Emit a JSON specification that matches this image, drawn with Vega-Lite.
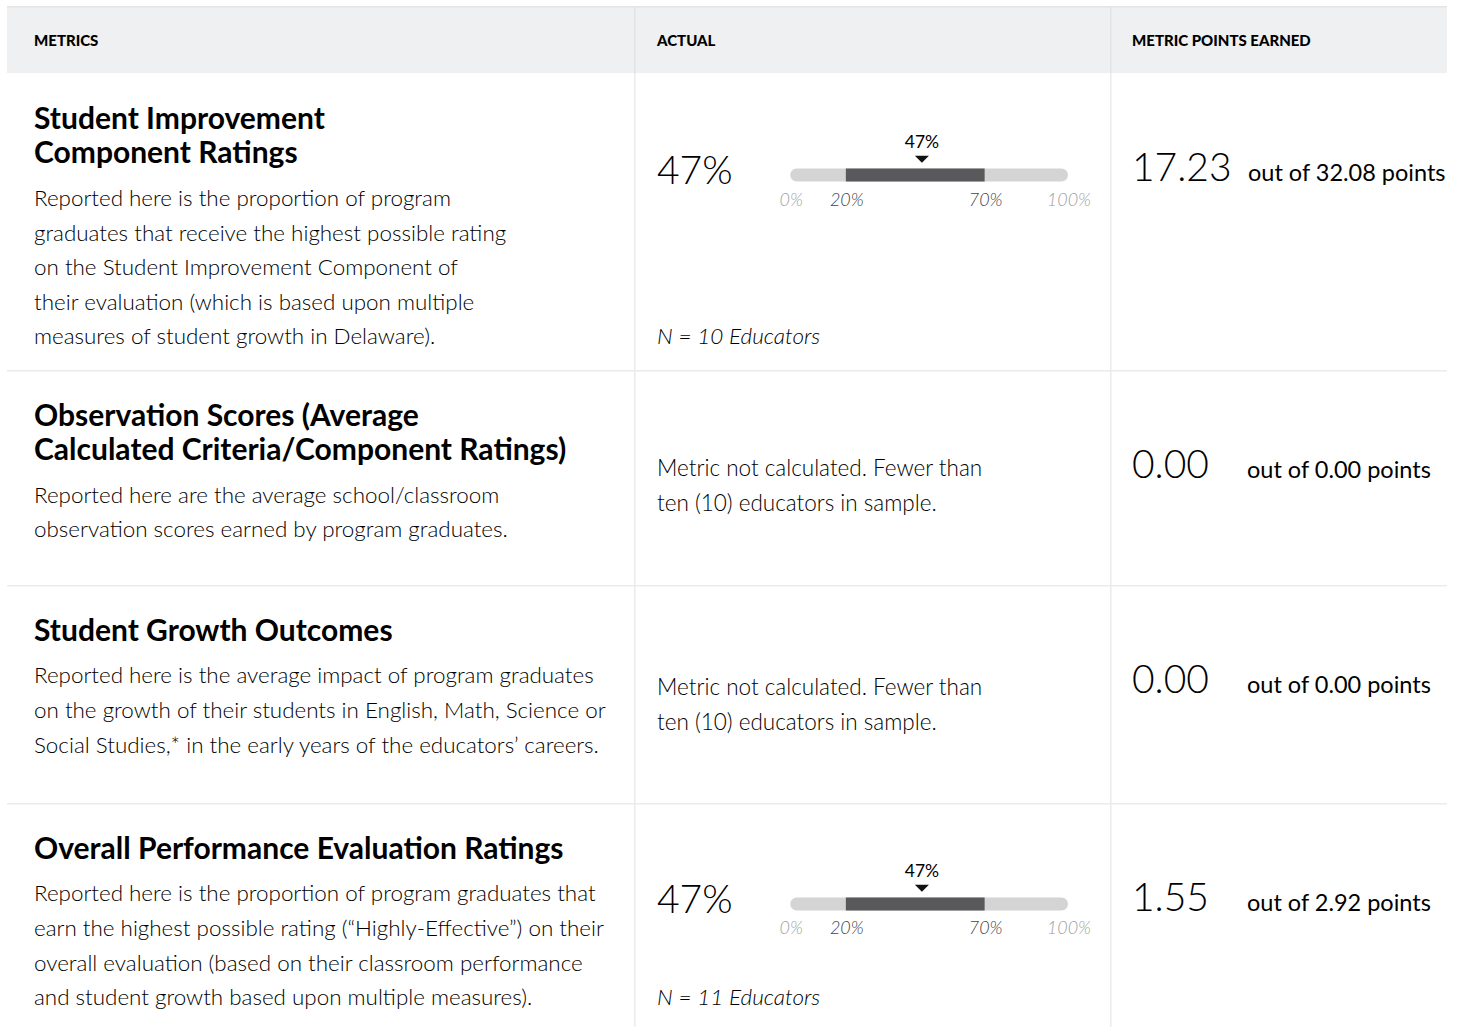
{
  "$schema": "https://vega.github.io/schema/vega-lite/v6.json",
  "padding": {"left": 7, "top": 6, "right": 0, "bottom": 0},
  "background": "#ffffff",
  "spacing": 0,
  "config": {
    "view": {"stroke": null},
    "concat": {"spacing": 0},
    "axis": {"disable": true},
    "font": "Lato",
    "style": {
      "hdr": {"fontSize": 15, "fontWeight": 900, "fill": "#111111", "align": "left", "baseline": "middle", "dy": 1.5},
      "ttl": {"fontSize": 30, "fontWeight": "bold", "fill": "#222222", "align": "left", "baseline": "middle", "dy": 2},
      "desc": {"fontSize": 22.4, "fontWeight": 300, "fill": "#2b2b2b", "align": "left", "baseline": "middle", "dy": 12},
      "big": {"fontSize": 39, "fontWeight": 300, "fill": "#111111", "align": "left", "baseline": "alphabetic", "dy": 29},
      "outof": {"fontSize": 23.5, "fontWeight": 400, "fill": "#444444", "align": "left", "baseline": "alphabetic", "dy": 29},
      "note": {"fontSize": 22.5, "fontWeight": 300, "fill": "#555555", "align": "left", "baseline": "middle", "dy": 20},
      "nlab": {"fontSize": 22.5, "fontWeight": 300, "fontStyle": "italic", "fill": "#444444", "align": "left", "baseline": "middle", "dy": 15},
      "glab": {"fontSize": 17.5, "fontWeight": 400, "fill": "#222222", "align": "center", "baseline": "middle"},
      "gtick": {"fontSize": 18, "fontWeight": 300, "fontStyle": "italic", "align": "center", "baseline": "middle"},
      "sep": {"color": "#ebebeb"},
      "hsep": {"color": "#e3e4e5"}
    }
  },
  "datasets": {
    "cells": [
      {"row": 0, "col": "metric"}, {"row": 0, "col": "actual"}, {"row": 0, "col": "points"},
      {"row": 1, "col": "metric"}, {"row": 1, "col": "actual"}, {"row": 1, "col": "points"},
      {"row": 2, "col": "metric"}, {"row": 2, "col": "actual"}, {"row": 2, "col": "points"},
      {"row": 3, "col": "metric"}, {"row": 3, "col": "actual"}, {"row": 3, "col": "points"},
      {"row": 4, "col": "metric"}, {"row": 4, "col": "actual"}, {"row": 4, "col": "points"}
    ],
    "lines": [
      {"row": 0, "col": "metric", "kind": "hdr", "line": 0, "text": "METRICS"},
      {"row": 0, "col": "actual", "kind": "hdr", "line": 0, "text": "ACTUAL"},
      {"row": 0, "col": "points", "kind": "hdr", "line": 0, "text": "METRIC POINTS EARNED"},

      {"row": 1, "col": "metric", "kind": "title", "line": 0, "text": "Student Improvement"},
      {"row": 1, "col": "metric", "kind": "title", "line": 1, "text": "Component Ratings"},
      {"row": 1, "col": "metric", "kind": "desc", "line": 2, "text": "Reported here is the proportion of program"},
      {"row": 1, "col": "metric", "kind": "desc", "line": 3, "text": "graduates that receive the highest possible rating"},
      {"row": 1, "col": "metric", "kind": "desc", "line": 4, "text": "on the Student Improvement Component of"},
      {"row": 1, "col": "metric", "kind": "desc", "line": 5, "text": "their evaluation (which is based upon multiple"},
      {"row": 1, "col": "metric", "kind": "desc", "line": 6, "text": "measures of student growth in Delaware)."},
      {"row": 1, "col": "actual", "kind": "big", "line": 1, "text": "47%"},
      {"row": 1, "col": "actual", "kind": "n", "line": 6, "text": "N = 10 Educators"},
      {"row": 1, "col": "points", "kind": "big", "line": 1, "text": "17.23"},
      {"row": 1, "col": "points", "kind": "outof", "line": 1, "text": "out of 32.08 points"},

      {"row": 2, "col": "metric", "kind": "title", "line": 0, "text": "Observation Scores (Average"},
      {"row": 2, "col": "metric", "kind": "title", "line": 1, "text": "Calculated Criteria/Component Ratings)"},
      {"row": 2, "col": "metric", "kind": "desc", "line": 2, "text": "Reported here are the average school/classroom"},
      {"row": 2, "col": "metric", "kind": "desc", "line": 3, "text": "observation scores earned by program graduates."},
      {"row": 2, "col": "actual", "kind": "note", "line": 1, "text": "Metric not calculated. Fewer than"},
      {"row": 2, "col": "actual", "kind": "note", "line": 2, "text": "ten (10) educators in sample."},
      {"row": 2, "col": "points", "kind": "big", "line": 1, "text": "0.00"},
      {"row": 2, "col": "points", "kind": "outof", "line": 1, "text": "out of 0.00 points"},

      {"row": 3, "col": "metric", "kind": "title", "line": 0, "text": "Student Growth Outcomes"},
      {"row": 3, "col": "metric", "kind": "desc", "line": 1, "text": "Reported here is the average impact of program graduates"},
      {"row": 3, "col": "metric", "kind": "desc", "line": 2, "text": "on the growth of their students in English, Math, Science or"},
      {"row": 3, "col": "metric", "kind": "desc", "line": 3, "text": "Social Studies,* in the early years of the educators’ careers."},
      {"row": 3, "col": "actual", "kind": "note", "line": 1, "text": "Metric not calculated. Fewer than"},
      {"row": 3, "col": "actual", "kind": "note", "line": 2, "text": "ten (10) educators in sample."},
      {"row": 3, "col": "points", "kind": "big", "line": 1, "text": "0.00"},
      {"row": 3, "col": "points", "kind": "outof", "line": 1, "text": "out of 0.00 points"},

      {"row": 4, "col": "metric", "kind": "title", "line": 0, "text": "Overall Performance Evaluation Ratings"},
      {"row": 4, "col": "metric", "kind": "desc", "line": 1, "text": "Reported here is the proportion of program graduates that"},
      {"row": 4, "col": "metric", "kind": "desc", "line": 2, "text": "earn the highest possible rating (“Highly-Effective”) on their"},
      {"row": 4, "col": "metric", "kind": "desc", "line": 3, "text": "overall evaluation (based on their classroom performance"},
      {"row": 4, "col": "metric", "kind": "desc", "line": 4, "text": "and student growth based upon multiple measures)."},
      {"row": 4, "col": "actual", "kind": "big", "line": 1, "text": "47%"},
      {"row": 4, "col": "actual", "kind": "n", "line": 4, "text": "N = 11 Educators"},
      {"row": 4, "col": "points", "kind": "big", "line": 1, "text": "1.55"},
      {"row": 4, "col": "points", "kind": "outof", "line": 1, "text": "out of 2.92 points"}
    ],
    "gauge": [
      {"row": 1, "min": 0, "max": 100, "low": 20, "high": 70, "value": 47.4, "label": "47%"},
      {"row": 4, "min": 0, "max": 100, "low": 20, "high": 70, "value": 47.4, "label": "47%"}
    ],
    "ticks": [
      {"tick": 0, "label": "0%", "band": "end"},
      {"tick": 20, "label": "20%", "band": "target"},
      {"tick": 70, "label": "70%", "band": "target"},
      {"tick": 100, "label": "100%", "band": "end"}
    ]
  },
  "hconcat": [
    {"bounds": "flush", "spacing": 0, "vconcat": [
      {"width": 627, "height": 67, "view": {"fill": "#eff0f1"}, "layer": [
        {"data": {"name": "cells"}, "transform": [{"filter": "datum.row==0 && datum.col=='metric'"}], "mark": {"type": "rect", "style": "hsep"}, "encoding": {"y": {"value": 0}, "y2": {"value": 1.5}}},
        {"data": {"name": "lines"}, "transform": [{"filter": "datum.row==0 && datum.col=='metric'"}], "mark": {"type": "text", "style": "hdr", "x": 27}, "encoding": {"y": {"field": "line", "type": "quantitative", "scale": {"domain": [-1, 1], "reverse": true, "nice": false, "zero": false}}, "text": {"field": "text"}}}
      ]},
      {"width": 627, "height": 297, "layer": [
        {"data": {"name": "lines"}, "transform": [{"filter": "datum.row==1 && datum.col=='metric' && datum.kind=='title'"}], "mark": {"type": "text", "style": "ttl", "x": 27}, "encoding": {"y": {"field": "line", "type": "quantitative", "scale": {"domain": [-1.304, 7.304], "reverse": true, "nice": false, "zero": false}}, "text": {"field": "text"}}},
        {"data": {"name": "lines"}, "transform": [{"filter": "datum.row==1 && datum.col=='metric' && datum.kind=='desc'"}], "mark": {"type": "text", "style": "desc", "x": 27}, "encoding": {"y": {"field": "line", "type": "quantitative", "scale": {"domain": [-1.304, 7.304], "reverse": true, "nice": false, "zero": false}}, "text": {"field": "text"}}}
      ]},
      {"width": 627, "height": 215, "layer": [
        {"data": {"name": "cells"}, "transform": [{"filter": "datum.row==2 && datum.col=='metric'"}], "mark": {"type": "rect", "style": "sep"}, "encoding": {"y": {"value": 0}, "y2": {"value": 1.5}}},
        {"data": {"name": "lines"}, "transform": [{"filter": "datum.row==2 && datum.col=='metric' && datum.kind=='title'"}], "mark": {"type": "text", "style": "ttl", "x": 27}, "encoding": {"y": {"field": "line", "type": "quantitative", "scale": {"domain": [-1.304, 4.928], "reverse": true, "nice": false, "zero": false}}, "text": {"field": "text"}}},
        {"data": {"name": "lines"}, "transform": [{"filter": "datum.row==2 && datum.col=='metric' && datum.kind=='desc'"}], "mark": {"type": "text", "style": "desc", "x": 27}, "encoding": {"y": {"field": "line", "type": "quantitative", "scale": {"domain": [-1.304, 4.928], "reverse": true, "nice": false, "zero": false}}, "text": {"field": "text"}}}
      ]},
      {"width": 627, "height": 218, "layer": [
        {"data": {"name": "cells"}, "transform": [{"filter": "datum.row==3 && datum.col=='metric'"}], "mark": {"type": "rect", "style": "sep"}, "encoding": {"y": {"value": 0}, "y2": {"value": 1.5}}},
        {"data": {"name": "lines"}, "transform": [{"filter": "datum.row==3 && datum.col=='metric' && datum.kind=='title'"}], "mark": {"type": "text", "style": "ttl", "x": 27}, "encoding": {"y": {"field": "line", "type": "quantitative", "scale": {"domain": [-1.304, 5.014], "reverse": true, "nice": false, "zero": false}}, "text": {"field": "text"}}},
        {"data": {"name": "lines"}, "transform": [{"filter": "datum.row==3 && datum.col=='metric' && datum.kind=='desc'"}], "mark": {"type": "text", "style": "desc", "x": 27}, "encoding": {"y": {"field": "line", "type": "quantitative", "scale": {"domain": [-1.304, 5.014], "reverse": true, "nice": false, "zero": false}}, "text": {"field": "text"}}}
      ]},
      {"width": 627, "height": 224, "layer": [
        {"data": {"name": "cells"}, "transform": [{"filter": "datum.row==4 && datum.col=='metric'"}], "mark": {"type": "rect", "style": "sep"}, "encoding": {"y": {"value": 0}, "y2": {"value": 1.5}}},
        {"data": {"name": "lines"}, "transform": [{"filter": "datum.row==4 && datum.col=='metric' && datum.kind=='title'"}], "mark": {"type": "text", "style": "ttl", "x": 27}, "encoding": {"y": {"field": "line", "type": "quantitative", "scale": {"domain": [-1.304, 5.188], "reverse": true, "nice": false, "zero": false}}, "text": {"field": "text"}}},
        {"data": {"name": "lines"}, "transform": [{"filter": "datum.row==4 && datum.col=='metric' && datum.kind=='desc'"}], "mark": {"type": "text", "style": "desc", "x": 27}, "encoding": {"y": {"field": "line", "type": "quantitative", "scale": {"domain": [-1.304, 5.188], "reverse": true, "nice": false, "zero": false}}, "text": {"field": "text"}}}
      ]}
    ]},
    {"bounds": "flush", "spacing": 0, "vconcat": [
      {"width": 476, "height": 67, "view": {"fill": "#eff0f1"}, "layer": [
        {"data": {"name": "cells"}, "transform": [{"filter": "datum.row==0 && datum.col=='actual'"}], "mark": {"type": "rect", "style": "hsep"}, "encoding": {"y": {"value": 0}, "y2": {"value": 1.5}}},
        {"data": {"name": "cells"}, "transform": [{"filter": "datum.row==0 && datum.col=='actual'"}], "mark": {"type": "rect", "style": "hsep"}, "encoding": {"x": {"value": 0}, "x2": {"value": 1.5}}},
        {"data": {"name": "lines"}, "transform": [{"filter": "datum.row==0 && datum.col=='actual'"}], "mark": {"type": "text", "style": "hdr", "x": 23}, "encoding": {"y": {"field": "line", "type": "quantitative", "scale": {"domain": [-1, 1], "reverse": true, "nice": false, "zero": false}}, "text": {"field": "text"}}}
      ]},
      {"width": 476, "height": 297, "layer": [
        {"data": {"name": "cells"}, "transform": [{"filter": "datum.row==1 && datum.col=='actual'"}], "mark": {"type": "rect", "style": "sep"}, "encoding": {"x": {"value": 0}, "x2": {"value": 1.5}}},
        {"data": {"name": "lines"}, "transform": [{"filter": "datum.row==1 && datum.col=='actual' && datum.kind=='big'"}], "mark": {"type": "text", "style": "big", "x": 23}, "encoding": {"y": {"field": "line", "type": "quantitative", "scale": {"domain": [-1.304, 7.304], "reverse": true, "nice": false, "zero": false}}, "text": {"field": "text"}}},
        {"data": {"name": "lines"}, "transform": [{"filter": "datum.row==1 && datum.col=='actual' && datum.kind=='n'"}], "mark": {"type": "text", "style": "nlab", "x": 23}, "encoding": {"y": {"field": "line", "type": "quantitative", "scale": {"domain": [-1.304, 7.304], "reverse": true, "nice": false, "zero": false}}, "text": {"field": "text"}}},
        {"data": {"name": "gauge"}, "transform": [{"filter": "datum.row==1"}], "mark": {"type": "bar", "orient": "horizontal", "cornerRadius": 6.5, "color": "#d4d4d4"}, "encoding": {"x": {"field": "min", "type": "quantitative", "scale": {"domain": [-56.32, 115.16], "nice": false, "zero": false}}, "x2": {"field": "max"}, "y": {"datum": 1.609, "type": "quantitative", "scale": {"domain": [-1.304, 7.304], "reverse": true, "nice": false, "zero": false}}, "size": {"value": 13}}},
        {"data": {"name": "gauge"}, "transform": [{"filter": "datum.row==1"}], "mark": {"type": "bar", "orient": "horizontal", "color": "#59595b"}, "encoding": {"x": {"field": "low", "type": "quantitative", "scale": {"domain": [-56.32, 115.16], "nice": false, "zero": false}}, "x2": {"field": "high"}, "y": {"datum": 1.609, "type": "quantitative", "scale": {"domain": [-1.304, 7.304], "reverse": true, "nice": false, "zero": false}}, "size": {"value": 13}}},
        {"data": {"name": "gauge"}, "transform": [{"filter": "datum.row==1"}], "mark": {"type": "point", "filled": true, "opacity": 1, "color": "#111111", "shape": "M-1,-0.5L1,-0.5L0,0.5Z", "size": 196}, "encoding": {"x": {"field": "value", "type": "quantitative", "scale": {"domain": [-56.32, 115.16], "nice": false, "zero": false}}, "y": {"datum": 1.13, "type": "quantitative", "scale": {"domain": [-1.304, 7.304], "reverse": true, "nice": false, "zero": false}}}},
        {"data": {"name": "gauge"}, "transform": [{"filter": "datum.row==1"}], "mark": {"type": "text", "style": "glab"}, "encoding": {"x": {"field": "value", "type": "quantitative", "scale": {"domain": [-56.32, 115.16], "nice": false, "zero": false}}, "y": {"datum": 0.64, "type": "quantitative", "scale": {"domain": [-1.304, 7.304], "reverse": true, "nice": false, "zero": false}}, "text": {"field": "label"}}},
        {"data": {"name": "ticks"}, "mark": {"type": "text", "style": "gtick", "dx": 1}, "encoding": {"x": {"field": "tick", "type": "quantitative", "scale": {"domain": [-56.32, 115.16], "nice": false, "zero": false}}, "y": {"datum": 2.377, "type": "quantitative", "scale": {"domain": [-1.304, 7.304], "reverse": true, "nice": false, "zero": false}}, "text": {"field": "label"}, "color": {"field": "band", "type": "nominal", "scale": {"domain": ["end", "target"], "range": ["#9f9f9f", "#444444"]}, "legend": null}}}
      ]},
      {"width": 476, "height": 215, "layer": [
        {"data": {"name": "cells"}, "transform": [{"filter": "datum.row==2 && datum.col=='actual'"}], "mark": {"type": "rect", "style": "sep"}, "encoding": {"y": {"value": 0}, "y2": {"value": 1.5}}},
        {"data": {"name": "cells"}, "transform": [{"filter": "datum.row==2 && datum.col=='actual'"}], "mark": {"type": "rect", "style": "sep"}, "encoding": {"x": {"value": 0}, "x2": {"value": 1.5}}},
        {"data": {"name": "lines"}, "transform": [{"filter": "datum.row==2 && datum.col=='actual' && datum.kind=='note'"}], "mark": {"type": "text", "style": "note", "x": 23}, "encoding": {"y": {"field": "line", "type": "quantitative", "scale": {"domain": [-1.304, 4.928], "reverse": true, "nice": false, "zero": false}}, "text": {"field": "text"}}}
      ]},
      {"width": 476, "height": 218, "layer": [
        {"data": {"name": "cells"}, "transform": [{"filter": "datum.row==3 && datum.col=='actual'"}], "mark": {"type": "rect", "style": "sep"}, "encoding": {"y": {"value": 0}, "y2": {"value": 1.5}}},
        {"data": {"name": "cells"}, "transform": [{"filter": "datum.row==3 && datum.col=='actual'"}], "mark": {"type": "rect", "style": "sep"}, "encoding": {"x": {"value": 0}, "x2": {"value": 1.5}}},
        {"data": {"name": "lines"}, "transform": [{"filter": "datum.row==3 && datum.col=='actual' && datum.kind=='note'"}], "mark": {"type": "text", "style": "note", "x": 23, "dy": 24}, "encoding": {"y": {"field": "line", "type": "quantitative", "scale": {"domain": [-1.304, 5.014], "reverse": true, "nice": false, "zero": false}}, "text": {"field": "text"}}}
      ]},
      {"width": 476, "height": 224, "layer": [
        {"data": {"name": "cells"}, "transform": [{"filter": "datum.row==4 && datum.col=='actual'"}], "mark": {"type": "rect", "style": "sep"}, "encoding": {"y": {"value": 0}, "y2": {"value": 1.5}}},
        {"data": {"name": "cells"}, "transform": [{"filter": "datum.row==4 && datum.col=='actual'"}], "mark": {"type": "rect", "style": "sep"}, "encoding": {"x": {"value": 0}, "x2": {"value": 1.5}}},
        {"data": {"name": "lines"}, "transform": [{"filter": "datum.row==4 && datum.col=='actual' && datum.kind=='big'"}], "mark": {"type": "text", "style": "big", "x": 23}, "encoding": {"y": {"field": "line", "type": "quantitative", "scale": {"domain": [-1.304, 5.188], "reverse": true, "nice": false, "zero": false}}, "text": {"field": "text"}}},
        {"data": {"name": "lines"}, "transform": [{"filter": "datum.row==4 && datum.col=='actual' && datum.kind=='n'"}], "mark": {"type": "text", "style": "nlab", "x": 23}, "encoding": {"y": {"field": "line", "type": "quantitative", "scale": {"domain": [-1.304, 5.188], "reverse": true, "nice": false, "zero": false}}, "text": {"field": "text"}}},
        {"data": {"name": "gauge"}, "transform": [{"filter": "datum.row==4"}], "mark": {"type": "bar", "orient": "horizontal", "cornerRadius": 6.5, "color": "#d4d4d4"}, "encoding": {"x": {"field": "min", "type": "quantitative", "scale": {"domain": [-56.32, 115.16], "nice": false, "zero": false}}, "x2": {"field": "max"}, "y": {"datum": 1.609, "type": "quantitative", "scale": {"domain": [-1.304, 5.188], "reverse": true, "nice": false, "zero": false}}, "size": {"value": 13}}},
        {"data": {"name": "gauge"}, "transform": [{"filter": "datum.row==4"}], "mark": {"type": "bar", "orient": "horizontal", "color": "#59595b"}, "encoding": {"x": {"field": "low", "type": "quantitative", "scale": {"domain": [-56.32, 115.16], "nice": false, "zero": false}}, "x2": {"field": "high"}, "y": {"datum": 1.609, "type": "quantitative", "scale": {"domain": [-1.304, 5.188], "reverse": true, "nice": false, "zero": false}}, "size": {"value": 13}}},
        {"data": {"name": "gauge"}, "transform": [{"filter": "datum.row==4"}], "mark": {"type": "point", "filled": true, "opacity": 1, "color": "#111111", "shape": "M-1,-0.5L1,-0.5L0,0.5Z", "size": 196}, "encoding": {"x": {"field": "value", "type": "quantitative", "scale": {"domain": [-56.32, 115.16], "nice": false, "zero": false}}, "y": {"datum": 1.13, "type": "quantitative", "scale": {"domain": [-1.304, 5.188], "reverse": true, "nice": false, "zero": false}}}},
        {"data": {"name": "gauge"}, "transform": [{"filter": "datum.row==4"}], "mark": {"type": "text", "style": "glab"}, "encoding": {"x": {"field": "value", "type": "quantitative", "scale": {"domain": [-56.32, 115.16], "nice": false, "zero": false}}, "y": {"datum": 0.64, "type": "quantitative", "scale": {"domain": [-1.304, 5.188], "reverse": true, "nice": false, "zero": false}}, "text": {"field": "label"}}},
        {"data": {"name": "ticks"}, "mark": {"type": "text", "style": "gtick", "dx": 1}, "encoding": {"x": {"field": "tick", "type": "quantitative", "scale": {"domain": [-56.32, 115.16], "nice": false, "zero": false}}, "y": {"datum": 2.377, "type": "quantitative", "scale": {"domain": [-1.304, 5.188], "reverse": true, "nice": false, "zero": false}}, "text": {"field": "label"}, "color": {"field": "band", "type": "nominal", "scale": {"domain": ["end", "target"], "range": ["#9f9f9f", "#444444"]}, "legend": null}}}
      ]}
    ]},
    {"bounds": "flush", "spacing": 0, "vconcat": [
      {"width": 337, "height": 67, "view": {"fill": "#eff0f1"}, "layer": [
        {"data": {"name": "cells"}, "transform": [{"filter": "datum.row==0 && datum.col=='points'"}], "mark": {"type": "rect", "style": "hsep"}, "encoding": {"y": {"value": 0}, "y2": {"value": 1.5}}},
        {"data": {"name": "cells"}, "transform": [{"filter": "datum.row==0 && datum.col=='points'"}], "mark": {"type": "rect", "style": "hsep"}, "encoding": {"x": {"value": 0}, "x2": {"value": 1.5}}},
        {"data": {"name": "lines"}, "transform": [{"filter": "datum.row==0 && datum.col=='points'"}], "mark": {"type": "text", "style": "hdr", "x": 22}, "encoding": {"y": {"field": "line", "type": "quantitative", "scale": {"domain": [-1, 1], "reverse": true, "nice": false, "zero": false}}, "text": {"field": "text"}}}
      ]},
      {"width": 337, "height": 297, "layer": [
        {"data": {"name": "cells"}, "transform": [{"filter": "datum.row==1 && datum.col=='points'"}], "mark": {"type": "rect", "style": "sep"}, "encoding": {"x": {"value": 0}, "x2": {"value": 1.5}}},
        {"data": {"name": "lines"}, "transform": [{"filter": "datum.row==1 && datum.col=='points' && datum.kind=='big'"}], "mark": {"type": "text", "style": "big", "x": 22}, "encoding": {"y": {"field": "line", "type": "quantitative", "scale": {"domain": [-1.304, 7.304], "reverse": true, "nice": false, "zero": false}}, "text": {"field": "text"}}},
        {"data": {"name": "lines"}, "transform": [{"filter": "datum.row==1 && datum.col=='points' && datum.kind=='outof'"}], "mark": {"type": "text", "style": "outof", "x": 138}, "encoding": {"y": {"field": "line", "type": "quantitative", "scale": {"domain": [-1.304, 7.304], "reverse": true, "nice": false, "zero": false}}, "text": {"field": "text"}}}
      ]},
      {"width": 337, "height": 215, "layer": [
        {"data": {"name": "cells"}, "transform": [{"filter": "datum.row==2 && datum.col=='points'"}], "mark": {"type": "rect", "style": "sep"}, "encoding": {"y": {"value": 0}, "y2": {"value": 1.5}}},
        {"data": {"name": "cells"}, "transform": [{"filter": "datum.row==2 && datum.col=='points'"}], "mark": {"type": "rect", "style": "sep"}, "encoding": {"x": {"value": 0}, "x2": {"value": 1.5}}},
        {"data": {"name": "lines"}, "transform": [{"filter": "datum.row==2 && datum.col=='points' && datum.kind=='big'"}], "mark": {"type": "text", "style": "big", "x": 22}, "encoding": {"y": {"field": "line", "type": "quantitative", "scale": {"domain": [-1.304, 4.928], "reverse": true, "nice": false, "zero": false}}, "text": {"field": "text"}}},
        {"data": {"name": "lines"}, "transform": [{"filter": "datum.row==2 && datum.col=='points' && datum.kind=='outof'"}], "mark": {"type": "text", "style": "outof", "x": 137}, "encoding": {"y": {"field": "line", "type": "quantitative", "scale": {"domain": [-1.304, 4.928], "reverse": true, "nice": false, "zero": false}}, "text": {"field": "text"}}}
      ]},
      {"width": 337, "height": 218, "layer": [
        {"data": {"name": "cells"}, "transform": [{"filter": "datum.row==3 && datum.col=='points'"}], "mark": {"type": "rect", "style": "sep"}, "encoding": {"y": {"value": 0}, "y2": {"value": 1.5}}},
        {"data": {"name": "cells"}, "transform": [{"filter": "datum.row==3 && datum.col=='points'"}], "mark": {"type": "rect", "style": "sep"}, "encoding": {"x": {"value": 0}, "x2": {"value": 1.5}}},
        {"data": {"name": "lines"}, "transform": [{"filter": "datum.row==3 && datum.col=='points' && datum.kind=='big'"}], "mark": {"type": "text", "style": "big", "x": 22}, "encoding": {"y": {"field": "line", "type": "quantitative", "scale": {"domain": [-1.304, 5.014], "reverse": true, "nice": false, "zero": false}}, "text": {"field": "text"}}},
        {"data": {"name": "lines"}, "transform": [{"filter": "datum.row==3 && datum.col=='points' && datum.kind=='outof'"}], "mark": {"type": "text", "style": "outof", "x": 137}, "encoding": {"y": {"field": "line", "type": "quantitative", "scale": {"domain": [-1.304, 5.014], "reverse": true, "nice": false, "zero": false}}, "text": {"field": "text"}}}
      ]},
      {"width": 337, "height": 224, "layer": [
        {"data": {"name": "cells"}, "transform": [{"filter": "datum.row==4 && datum.col=='points'"}], "mark": {"type": "rect", "style": "sep"}, "encoding": {"y": {"value": 0}, "y2": {"value": 1.5}}},
        {"data": {"name": "cells"}, "transform": [{"filter": "datum.row==4 && datum.col=='points'"}], "mark": {"type": "rect", "style": "sep"}, "encoding": {"x": {"value": 0}, "x2": {"value": 1.5}}},
        {"data": {"name": "lines"}, "transform": [{"filter": "datum.row==4 && datum.col=='points' && datum.kind=='big'"}], "mark": {"type": "text", "style": "big", "x": 22}, "encoding": {"y": {"field": "line", "type": "quantitative", "scale": {"domain": [-1.304, 5.188], "reverse": true, "nice": false, "zero": false}}, "text": {"field": "text"}}},
        {"data": {"name": "lines"}, "transform": [{"filter": "datum.row==4 && datum.col=='points' && datum.kind=='outof'"}], "mark": {"type": "text", "style": "outof", "x": 137}, "encoding": {"y": {"field": "line", "type": "quantitative", "scale": {"domain": [-1.304, 5.188], "reverse": true, "nice": false, "zero": false}}, "text": {"field": "text"}}}
      ]}
    ]}
  ]
}
